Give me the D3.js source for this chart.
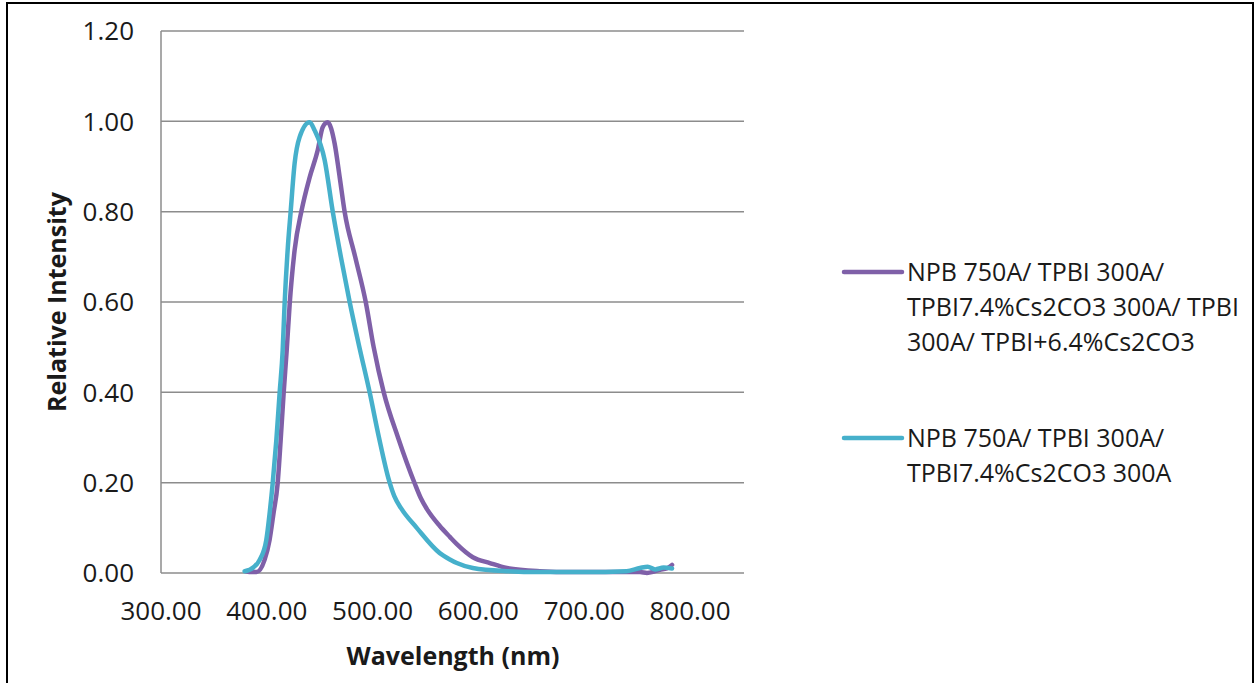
<!DOCTYPE html>
<html>
<head>
<meta charset="utf-8">
<script src="https://cdn.jsdelivr.net/npm/d3@7"></script>
<style>
  body { margin: 0; background: #fff; }
  text { font-family: "Open Sans", "Liberation Sans", sans-serif; fill: #1a1a1a; }
</style>
</head>
<body>
<div class="chart"></div>
<script>
// tick labels
var xTicks = [300, 400, 500, 600, 700, 800];
var yTicks = [0, 0.2, 0.4, 0.6, 0.8, 1.0, 1.2];

// series names (legend lines)
var seriesNames = [
  ["NPB 750A/ TPBI 300A/", "TPBI7.4%Cs2CO3 300A/ TPBI", "300A/ TPBI+6.4%Cs2CO3"],
  ["NPB 750A/ TPBI 300A/", "TPBI7.4%Cs2CO3 300A"]
];
var seriesColors = ["#7f60a8", "#46b0cb"];

// wavelength (nm) and relative intensity
var purpleNm  = [380, 386, 390.3, 397.9, 402.6, 406.4, 410.2, 413.1, 415.9, 418.8, 421.6, 426.3, 432.9, 440.5, 448.1, 452.8, 457.5, 464.1, 468.9, 473.6, 483.5, 493.5, 501, 510.5, 524, 540, 545.5, 551.2, 563.5, 573, 579.6, 594.7, 610.8, 626.9, 658, 689, 720, 752.7, 759.3, 766, 771.5, 778, 783];
var purpleVal = [0.004, 0.002, 0.002, 0.029, 0.073, 0.133, 0.197, 0.294, 0.398, 0.493, 0.595, 0.715, 0.803, 0.876, 0.936, 0.987, 0.998, 0.951, 0.876, 0.799, 0.700, 0.600, 0.500, 0.400, 0.300, 0.197, 0.166, 0.142, 0.104, 0.080, 0.064, 0.035, 0.022, 0.011, 0.004, 0.002, 0.002, 0.002, 0.000, 0.003, 0.007, 0.010, 0.018];

var cyanNm  = [379, 383.7, 393.2, 399.5, 402.7, 405.5, 409, 412.1, 415, 416.8, 419.7, 422.5, 426.3, 431, 440.5, 445.2, 454.7, 462.4, 470, 478.3, 487.5, 497.2, 506, 515.5, 520.5, 527, 541.7, 563.5, 573, 579.6, 594.7, 626.9, 658, 700, 740, 752.7, 760, 767, 775, 783];
var cyanVal = [0.004, 0.007, 0.029, 0.073, 0.133, 0.197, 0.294, 0.398, 0.493, 0.595, 0.715, 0.799, 0.907, 0.965, 0.998, 0.980, 0.914, 0.799, 0.700, 0.600, 0.500, 0.400, 0.300, 0.205, 0.170, 0.143, 0.100, 0.044, 0.030, 0.022, 0.011, 0.004, 0.002, 0.002, 0.004, 0.011, 0.014, 0.008, 0.012, 0.010];

var W = 1257, H = 683;
var svg = d3.select(".chart").append("svg")
    .attr("width", W)
    .attr("height", H);

// outer frame
svg.append("rect")
  .attr("x", 7).attr("y", 3)
  .attr("width", 1246).attr("height", 700)
  .attr("fill", "none").attr("stroke", "#000").attr("stroke-width", 2);

var x = d3.scaleLinear().domain([300, 851]).range([161, 744]);
var y = d3.scaleLinear().domain([0, 1.2]).range([573, 31]);

// gridlines
svg.append("g").selectAll("line")
  .data(yTicks)
  .enter().append("line")
  .attr("x1", x(300)).attr("x2", x(851))
  .attr("y1", function(d){ return y(d); })
  .attr("y2", function(d){ return y(d); })
  .attr("stroke", "#8c8c8c").attr("stroke-width", 1.5);

// left axis line
svg.append("line")
  .attr("x1", x(300)).attr("x2", x(300))
  .attr("y1", y(1.2)).attr("y2", y(0))
  .attr("stroke", "#8c8c8c").attr("stroke-width", 1.5);

// y tick labels
svg.append("g").selectAll("text")
  .data(yTicks)
  .enter().append("text")
  .attr("x", 134)
  .attr("y", function(d){ return y(d); })
  .attr("dy", "0.36em")
  .attr("text-anchor", "end")
  .attr("font-size", 26)
  .text(function(d){ return d3.format(".2f")(d); });

// x tick labels
svg.append("g").selectAll("text")
  .data(xTicks)
  .enter().append("text")
  .attr("x", function(d){ return x(d); })
  .attr("y", 611)
  .attr("dy", "0.36em")
  .attr("text-anchor", "middle")
  .attr("font-size", 26)
  .text(function(d){ return d3.format(".2f")(d); });

// axis titles
svg.append("text")
  .attr("x", 453).attr("y", 656)
  .attr("dy", "0.36em")
  .attr("text-anchor", "middle")
  .attr("font-size", 25).attr("font-weight", "bold")
  .text("Wavelength (nm)");

svg.append("text")
  .attr("transform", "translate(57,302) rotate(-90)")
  .attr("dy", "0.36em")
  .attr("text-anchor", "middle")
  .attr("font-size", 25).attr("font-weight", "bold")
  .text("Relative Intensity");

// curves
var line = d3.line()
  .x(function(d){ return x(d[0]); })
  .y(function(d){ return y(d[1]); })
  .curve(d3.curveMonotoneX);

var series = [d3.zip(purpleNm, purpleVal), d3.zip(cyanNm, cyanVal)];

svg.append("g").selectAll("path")
  .data(series)
  .enter().append("path")
  .attr("d", line)
  .attr("fill", "none")
  .attr("stroke", function(d, i){ return seriesColors[i]; })
  .attr("stroke-width", 4.5)
  .attr("stroke-linejoin", "round")
  .attr("stroke-linecap", "round");

// legend
var legendY = [272, 438];
var leg = svg.append("g").selectAll("g")
  .data(seriesNames)
  .enter().append("g")
  .attr("transform", function(d, i){ return "translate(0," + legendY[i] + ")"; });

leg.append("line")
  .attr("x1", 844).attr("x2", 902)
  .attr("y1", 0).attr("y2", 0)
  .attr("stroke", function(d, i){ return seriesColors[i]; })
  .attr("stroke-width", 4.5)
  .attr("stroke-linecap", "round");

leg.selectAll("text")
  .data(function(d){ return d; })
  .enter().append("text")
  .attr("x", 907)
  .attr("y", function(d, j){ return j * 35; })
  .attr("dy", "0.36em")
  .attr("font-size", 25)
  .text(function(d){ return d; });
</script>
</body>
</html>
